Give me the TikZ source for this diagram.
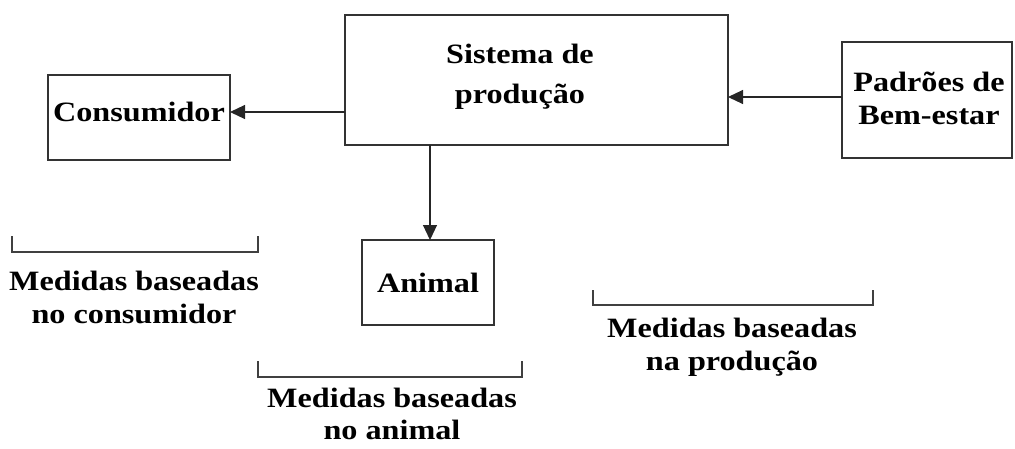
\documentclass[tikz,border=0pt]{standalone}
\usepackage{fontspec}
\setmainfont{Liberation Serif}[FakeStretch=1.15]
\usetikzlibrary{arrows.meta}
\begin{document}
\begin{tikzpicture}[x=1pt,y=-1pt,
  box/.style={draw=black!80,line width=1.6pt},
  lbl/.style={font=\fontsize{28}{33}\selectfont\bfseries,align=center,inner sep=0pt},
  conn/.style={draw=black!85,line width=1.1pt,-{Triangle[length=15pt,width=14pt]}},
  brk/.style={draw=black!75,line width=1.4pt}]
\useasboundingbox (0,0) rectangle (1015,448);
% boxes
\draw[box] (48,75) rectangle (230,160);
\node[lbl] (cons) at (139,112) {Consumidor};
\draw[box] (345,15) rectangle (728,145);
\node[lbl,font=\fontsize{28}{40}\selectfont\bfseries] (sist) at (520,77) {Sistema de\\produção};
\draw[box] (842,42) rectangle (1012,158);
\node[lbl] (pad) at (929,98) {Padrões de\\Bem-estar};
\draw[box] (362,240) rectangle (494,325);
\node[lbl] (anim) at (428,283) {Animal};
% named anchors for connectors
\coordinate (sistL) at (345,112);
\coordinate (consR) at (230,112);
\coordinate (padL) at (842,97);
\coordinate (sistR) at (728,97);
\coordinate (sistB) at (430,145);
\coordinate (animT) at (430,240);
\draw[conn] (sistL) -- (consR);
\draw[conn] (padL) -- (sistR);
\draw[conn] (sistB) -- (animT);
% brackets
\draw[brk] (12,236) -- (12,252) -- (258,252) -- (258,236);
\node[lbl] (mc) at (134,297) {Medidas baseadas\\no consumidor};
\draw[brk] (258,361) -- (258,377) -- (522,377) -- (522,361);
\node[lbl,font=\fontsize{28}{32}\selectfont\bfseries] (ma) at (392,414) {Medidas baseadas\\no animal};
\draw[brk] (593,290) -- (593,305) -- (873,305) -- (873,290);
\node[lbl] (mp) at (732,347) {Medidas baseadas\\na produção};
\end{tikzpicture}
\end{document}
